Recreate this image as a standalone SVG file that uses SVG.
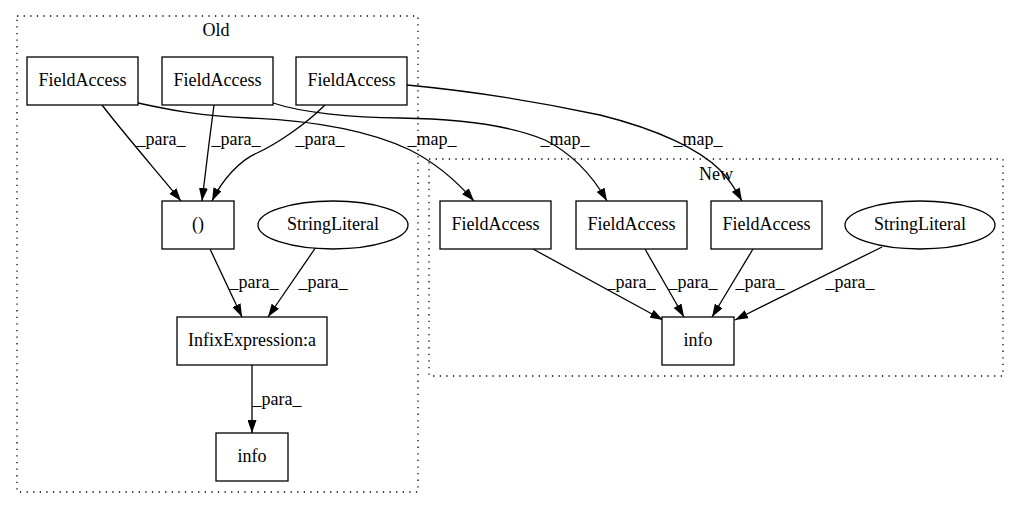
<svg xmlns="http://www.w3.org/2000/svg" width="1020" height="508" viewBox="0 0 1020 508">
<style>
text{font-family:"Liberation Serif","Times New Roman",serif;font-size:18px;fill:#000;text-anchor:middle}
.cl{fill:none;stroke:#000;stroke-width:1.3;stroke-dasharray:1.3,5.3}
.n{fill:#fff;stroke:#000;stroke-width:1.3}
.e{fill:none;stroke:#000;stroke-width:1.3;marker-end:url(#ah)}
</style>
<defs>
<marker id="ah" viewBox="0 0 13 9" refX="13" refY="4.5" markerWidth="13" markerHeight="9" markerUnits="userSpaceOnUse" orient="auto">
<path d="M0,0 L13,4.5 L0,9 z" fill="#000"/>
</marker>
</defs>
<rect width="1020" height="508" fill="#fff"/>
<g id="cluster_old">
<rect class="cl" x="17" y="16" width="401" height="476"/>
<text x="216" y="36">Old</text>
</g>
<g id="cluster_new">
<rect class="cl" x="429" y="159" width="574" height="217"/>
<text x="716" y="180">New</text>
</g>
<g id="edges">
<path class="e" d="M102,105 C125,135 160,175 181,201"/>
<path class="e" d="M214,105 C210,135 205,175 202,201"/>
<path class="e" d="M325,105 C305,125 275,145 257,153 C240,160 222,180 212,201"/>
<path class="e" d="M210,249 L242,317"/>
<path class="e" d="M316,247 L268,317"/>
<path class="e" d="M252,365 L252,433"/>
<path class="e" d="M138,103 C170,110 200,116 250,118 C320,121 370,131 410,150 C440,165 460,185 474,201"/>
<path class="e" d="M273,103 C300,112 350,118 400,118 C460,119 510,125 545,140 C575,155 595,180 607,201"/>
<path class="e" d="M407,85 C460,90 530,100 600,115 C660,130 700,150 720,170 C730,180 737,192 742,201"/>
<path class="e" d="M533,249 L663,320"/>
<path class="e" d="M645,249 L684,317"/>
<path class="e" d="M753,249 L712,317"/>
<path class="e" d="M882,247 L735,320"/>
<text x="161" y="145">_para_</text>
<text x="236" y="145">_para_</text>
<text x="320" y="145">_para_</text>
<text x="254" y="288">_para_</text>
<text x="323" y="288">_para_</text>
<text x="277" y="405">_para_</text>
<text x="432" y="145">_map_</text>
<text x="565" y="145">_map_</text>
<text x="698" y="145">_map_</text>
<text x="631" y="288">_para_</text>
<text x="693" y="288">_para_</text>
<text x="760" y="288">_para_</text>
<text x="850" y="288">_para_</text>
</g>
<g id="old_fa1"><rect class="n" x="27" y="57" width="111" height="48"/><text x="82.5" y="85.5">FieldAccess</text></g>
<g id="old_fa2"><rect class="n" x="162" y="57" width="111" height="48"/><text x="217.5" y="85.5">FieldAccess</text></g>
<g id="old_fa3"><rect class="n" x="296" y="57" width="111" height="48"/><text x="351.5" y="85.5">FieldAccess</text></g>
<g id="old_paren"><rect class="n" x="162" y="201" width="72" height="48"/><text x="198" y="229.5">()</text></g>
<g id="old_sl"><ellipse class="n" cx="333" cy="225" rx="75" ry="24"/><text x="333" y="229.5">StringLiteral</text></g>
<g id="old_infix"><rect class="n" x="177" y="317" width="150" height="48"/><text x="252" y="345.5">InfixExpression:a</text></g>
<g id="old_info"><rect class="n" x="216" y="433" width="72" height="48"/><text x="252" y="461.5">info</text></g>
<g id="new_fa1"><rect class="n" x="440" y="201" width="111" height="48"/><text x="495.5" y="229.5">FieldAccess</text></g>
<g id="new_fa2"><rect class="n" x="576" y="201" width="111" height="48"/><text x="631.5" y="229.5">FieldAccess</text></g>
<g id="new_fa3"><rect class="n" x="711" y="201" width="111" height="48"/><text x="766.5" y="229.5">FieldAccess</text></g>
<g id="new_sl"><ellipse class="n" cx="920" cy="225" rx="75" ry="24"/><text x="920" y="229.5">StringLiteral</text></g>
<g id="new_info"><rect class="n" x="662" y="317" width="72" height="48"/><text x="698" y="345.5">info</text></g>
</svg>
